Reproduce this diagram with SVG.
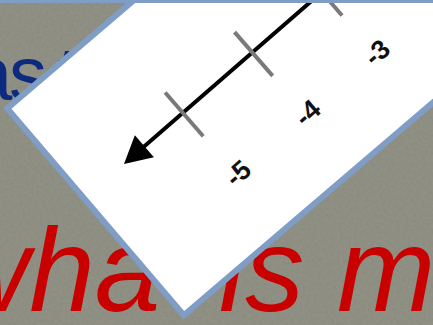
<svg xmlns="http://www.w3.org/2000/svg" width="433" height="325" viewBox="0 0 433 325">
  <defs>
    <filter id="tex" x="0" y="0" width="100%" height="100%">
      <feTurbulence type="fractalNoise" baseFrequency="0.35" numOctaves="2" seed="3" result="n"/>
      <feColorMatrix in="n" type="matrix" values="0 0 0 0 0.54  0 0 0 0 0.55  0 0 0 0 0.49  0 0 0 0.25 0" result="c"/>
      <feComposite in="c" in2="SourceGraphic" operator="over"/>
    </filter>
    <style>
      .bg { fill: #898a7d; }
      .title { font-family: "Liberation Sans", Arial, sans-serif; }
      .blue { fill: #0b2a80; font-size: 76px; }
      .red { fill: #c80000; font-size: 118px; font-style: italic; }
      .card { fill: #ffffff; stroke: #7f9dc5; stroke-width: 6; }
      .axis { stroke: #000000; stroke-width: 4; fill: none; }
      .tick { stroke: #7a7a7a; stroke-width: 4; }
      .lbl { font-family: "Liberation Sans", Arial, sans-serif; font-size: 27px; font-weight: bold; fill: #111111; text-anchor: middle; }
    </style>
  </defs>

  <g id="background">
    <rect class="bg" x="0" y="0" width="433" height="325"/>
    <rect x="0" y="0" width="433" height="325" fill="#898a7d" filter="url(#tex)" opacity="0.6"/>
    <text class="title blue" x="-30 9 57" y="100">ast</text>
    <text class="title red" x="-56" y="311">wha</text>
    <text class="title red" x="219" y="311">is m</text>
  </g>

  <g id="card" transform="translate(3,108) rotate(-40.5)">
    <rect class="card" x="3" y="3" width="700" height="272"/>
  </g>

  <g id="number-line" transform="translate(124,164) rotate(-41)">
    <g id="connectors">
      <line class="axis" x1="24" y1="0" x2="320" y2="0"/>
      <polygon points="0,0 27,-14.5 27,14.5" fill="#000000"/>
    </g>
    <g id="tick-5">
      <line class="tick" x1="78" y1="-27" x2="78" y2="31"/>
      <text class="lbl" x="80" y="91">-5</text>
    </g>
    <g id="tick-4">
      <line class="tick" x1="170" y1="-27" x2="170" y2="31"/>
      <text class="lbl" x="172" y="91">-4</text>
    </g>
    <g id="tick-3">
      <line class="tick" x1="262" y1="-27" x2="262" y2="31"/>
      <text class="lbl" x="264" y="91">-3</text>
    </g>
  </g>

  <rect id="top-strip" x="0" y="0" width="433" height="3" fill="#7f9dc5"/>
</svg>
